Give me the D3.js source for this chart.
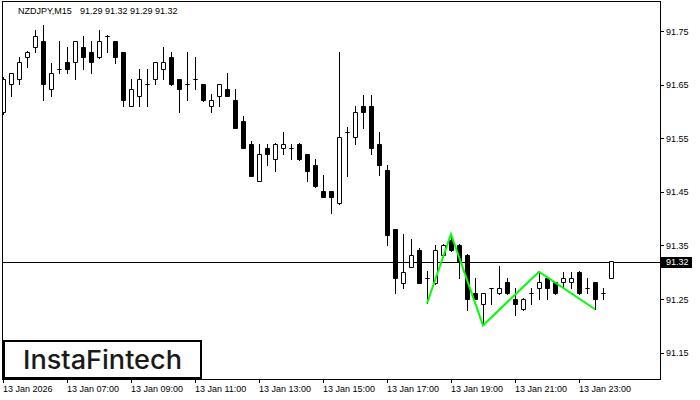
<!DOCTYPE html>
<html>
<head>
<meta charset="utf-8">
<script src="https://cdn.jsdelivr.net/npm/d3@7"></script>
<style>
  body { margin: 0; background: #fff; }
  svg text { font-family: "Liberation Sans", Arial, sans-serif; }
</style>
</head>
<body>
<div id="chart"></div>
<script>
// NZDJPY M15 bars, 13 Jan 05:00 .. 14 Jan 00:00
var opens = [91.599,91.651,91.660,91.701,91.721,91.731,91.641,91.680,91.692,91.692,
  91.721,91.710,91.701,91.741,91.731,91.710,91.611,91.629,91.651,91.660,
  91.680,91.701,91.660,91.651,91.660,91.651,91.611,91.629,91.641,91.621,
  91.582,91.540,91.471,91.531,91.511,91.531,91.531,91.540,91.520,91.501,
  91.451,91.451,91.430,91.561,91.552,91.611,91.611,91.540,91.491,91.381,
  91.280,91.310,91.341,91.290,91.280,91.332,91.360,91.351,91.332,91.261,
  91.240,91.271,91.261,91.281,91.251,91.231,91.261,91.271,91.290,91.281,
  91.281,91.281,91.301,91.271,91.281,91.261,91.290];
var highs = [91.665,91.672,91.702,91.712,91.752,91.761,91.690,91.731,91.721,91.732,
  91.741,91.731,91.752,91.742,91.732,91.711,91.660,91.680,91.680,91.693,
  91.721,91.710,91.661,91.710,91.701,91.652,91.632,91.652,91.671,91.641,
  91.591,91.545,91.540,91.540,91.541,91.561,91.540,91.541,91.521,91.511,
  91.481,91.452,91.710,91.571,91.611,91.631,91.631,91.561,91.501,91.381,
  91.371,91.362,91.345,91.302,91.351,91.353,91.371,91.353,91.334,91.290,
  91.262,91.271,91.312,91.290,91.271,91.252,91.271,91.301,91.291,91.282,
  91.301,91.301,91.302,91.290,91.282,91.271,91.321];
var lows = [91.595,91.629,91.651,91.683,91.710,91.621,91.629,91.671,91.671,91.660,
  91.680,91.671,91.700,91.710,91.690,91.611,91.610,91.611,91.611,91.651,
  91.660,91.650,91.599,91.621,91.641,91.620,91.599,91.611,91.628,91.570,
  91.531,91.480,91.471,91.501,91.489,91.520,91.511,91.510,91.471,91.459,
  91.440,91.411,91.428,91.480,91.540,91.570,91.520,91.481,91.351,91.261,
  91.271,91.310,91.280,91.242,91.279,91.330,91.340,91.290,91.229,91.250,
  91.201,91.240,91.260,91.260,91.220,91.230,91.240,91.251,91.251,91.260,
  91.271,91.271,91.260,91.261,91.231,91.251,91.290];
var closes = [91.660,91.671,91.692,91.710,91.741,91.651,91.671,91.680,91.680,91.731,
  91.701,91.692,91.731,91.741,91.701,91.621,91.641,91.660,91.651,91.692,
  91.692,91.651,91.641,91.651,91.660,91.621,91.621,91.651,91.629,91.570,
  91.531,91.480,91.520,91.520,91.540,91.540,91.531,91.511,91.489,91.460,
  91.441,91.441,91.552,91.561,91.599,91.599,91.531,91.501,91.369,91.290,
  91.301,91.332,91.280,91.290,91.341,91.351,91.341,91.321,91.251,91.251,
  91.261,91.271,91.271,91.261,91.240,91.251,91.261,91.281,91.271,91.261,
  91.290,91.290,91.261,91.271,91.251,91.261,91.321];

var priceTicks = [91.15, 91.25, 91.35, 91.45, 91.55, 91.65, 91.75];
var timeTickBars = [0, 8, 16, 24, 32, 40, 48, 56, 64, 72];
var timeTickLabels = ["13 Jan 2026", "13 Jan 07:00", "13 Jan 09:00", "13 Jan 11:00", "13 Jan 13:00",
  "13 Jan 15:00", "13 Jan 17:00", "13 Jan 19:00", "13 Jan 21:00", "13 Jan 23:00"];

// pattern pivots: bar index and which extreme
var patternBars = [53, 56, 60, 67, 74];
var patternSide = ["low", "high", "low", "high", "low"];

var lastPrice = 91.32;
var title = "NZDJPY,M15";
var titleValues = "91.29 91.32 91.29 91.32";

var W = 700, H = 400;
var plot = {left: 3, top: 2, right: 660, bottom: 379};

var svg = d3.select("#chart").append("svg")
  .attr("width", W).attr("height", H);

svg.append("rect").attr("width", W).attr("height", H).attr("fill", "#fff");

var x = d3.scaleLinear().domain([0, 76]).range([3, 611]);
var y = d3.scaleLinear().domain([91.15, 91.75]).range([352.7, 31]);

var px = function(v) { return Math.round(v) + 0.5; };

svg.append("clipPath").attr("id", "clip")
  .append("rect")
    .attr("x", plot.left).attr("y", plot.top)
    .attr("width", plot.right - plot.left).attr("height", plot.bottom - plot.top);

var g = svg.append("g").attr("clip-path", "url(#clip)");

// current price line
g.append("line")
  .attr("x1", plot.left).attr("x2", plot.right)
  .attr("y1", px(y(lastPrice))).attr("y2", px(y(lastPrice)))
  .attr("stroke", "#000").attr("stroke-width", 1);

var bars = d3.range(opens.length).map(function(i) {
  return {i: i, o: opens[i], h: highs[i], l: lows[i], c: closes[i]};
});

// wicks
g.selectAll(".wick").data(bars).enter().append("line")
  .attr("class", "wick")
  .attr("x1", function(d) { return px(x(d.i)); })
  .attr("x2", function(d) { return px(x(d.i)); })
  .attr("y1", function(d) { return Math.round(y(d.h)); })
  .attr("y2", function(d) { return Math.round(y(d.l)) + 1; })
  .attr("stroke", "#000").attr("stroke-width", 1);

// bodies
g.selectAll(".body").data(bars).enter().append("path")
  .attr("class", "body")
  .attr("d", function(d) {
    var cx = Math.round(x(d.i));
    var x0 = cx - 2 + 0.5, x1 = cx + 2 + 0.5;
    var y0 = px(y(Math.max(d.o, d.c))), y1 = px(y(Math.min(d.o, d.c)));
    return "M" + x0 + "," + y0 + "H" + x1 + "V" + y1 + "H" + x0 + "Z";
  })
  .attr("fill", function(d) { return d.c < d.o ? "#000" : "#fff"; })
  .attr("stroke", "#000").attr("stroke-width", 1);

// pattern line
var patternPts = patternBars.map(function(b, k) {
  return [x(b), y(patternSide[k] === "high" ? highs[b] : lows[b])];
});
g.append("path")
  .attr("d", d3.line()(patternPts))
  .attr("fill", "none")
  .attr("stroke", "#00ff00")
  .attr("stroke-width", 2)
  .attr("stroke-linejoin", "miter");

// frame
svg.append("rect")
  .attr("x", plot.left - 0.5).attr("y", plot.top - 0.5)
  .attr("width", plot.right - plot.left + 1).attr("height", plot.bottom - plot.top + 1)
  .attr("fill", "none").attr("stroke", "#000").attr("stroke-width", 1);

// right price axis
var yAxis = svg.append("g");
yAxis.selectAll("line").data(priceTicks).enter().append("line")
  .attr("x1", plot.right + 1).attr("x2", plot.right + 4)
  .attr("y1", function(d) { return px(y(d)); })
  .attr("y2", function(d) { return px(y(d)); })
  .attr("stroke", "#000");
yAxis.selectAll("text").data(priceTicks).enter().append("text")
  .attr("x", plot.right + 6)
  .attr("y", function(d) { return y(d) + 3.5; })
  .attr("font-size", 9)
  .attr("fill", "#000")
  .text(function(d) { return d3.format(".2f")(d); });

// last price tag
svg.append("rect")
  .attr("x", plot.right + 1).attr("y", Math.round(y(lastPrice)) - 5)
  .attr("width", 31).attr("height", 11)
  .attr("fill", "#000");
svg.append("text")
  .attr("x", plot.right + 6).attr("y", y(lastPrice) + 3.5)
  .attr("font-size", 9).attr("fill", "#fff")
  .text(d3.format(".2f")(lastPrice));

// time axis
var xAxis = svg.append("g");
xAxis.selectAll("line").data(timeTickBars).enter().append("line")
  .attr("x1", function(d) { return px(x(d)); })
  .attr("x2", function(d) { return px(x(d)); })
  .attr("y1", plot.bottom + 1).attr("y2", plot.bottom + 4)
  .attr("stroke", "#000");
xAxis.selectAll("text").data(timeTickBars).enter().append("text")
  .attr("x", function(d) { return Math.round(x(d)); })
  .attr("y", 392)
  .attr("font-size", 9)
  .attr("fill", "#000")
  .text(function(d, k) { return timeTickLabels[k]; });

// title
svg.append("text").attr("x", 18).attr("y", 14).attr("font-size", 9).attr("fill", "#000").text(title);
svg.append("text").attr("x", 80).attr("y", 14).attr("font-size", 9).attr("fill", "#000").text(titleValues);

// logo box
svg.append("rect")
  .attr("x", 4).attr("y", 341)
  .attr("width", 197).attr("height", 37)
  .attr("fill", "#fff").attr("stroke", "#000").attr("stroke-width", 2);
svg.append("text")
  .attr("x", 23).attr("y", 369)
  .attr("font-size", 26)
  .attr("font-weight", 500)
  .attr("fill", "#1a1a1a")
  .style("font-family", "Inter, 'Noto Sans', sans-serif")
  .attr("textLength", 159)
  .attr("lengthAdjust", "spacingAndGlyphs")
  .text("InstaFintech");
</script>
</body>
</html>
